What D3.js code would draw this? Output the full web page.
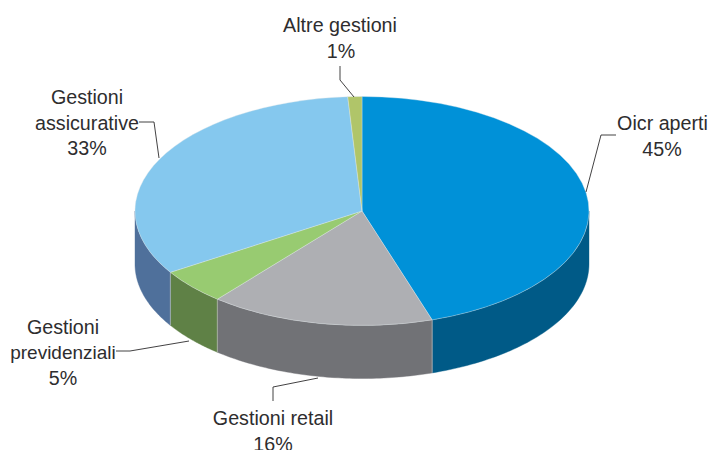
<!DOCTYPE html>
<html><head><meta charset="utf-8">
<style>html,body{margin:0;padding:0;background:#fff;overflow:hidden}
svg{display:block}text{font-family:"Liberation Sans",Arial,sans-serif;font-size:19.7px;fill:#2e2d2e;text-anchor:middle}</style>
<script src="https://cdnjs.cloudflare.com/ajax/libs/d3/7.8.5/d3.min.js"></script>
</head><body><svg id="c" width="708" height="450"></svg>
<script>
const categories = ["Oicr aperti","Gestioni retail","Gestioni previdenziali","Gestioni assicurative","Altre gestioni"];
const values = [45,16,5,33,1];
const topColors = ["#0091D8","#AEAFB3","#98CB71","#85C8EE","#B0C569"];
const sideColors = ["#005A87","#717276","#5F8146","#4F709B","#7F9048"];

const cx=362, cy=211, rx=227, ry=114.5, depth=53;
const svg=d3.select("#c");
const arcs=d3.pie().sort(null).value(d=>d)(values);
const px=a=>cx+rx*Math.sin(a), py=a=>cy-ry*Math.cos(a);
const line=d3.line();

// side walls: only the front half of the rim is visible
arcs.forEach((s,i)=>{
  const a0=Math.max(s.startAngle,Math.PI/2), a1=Math.min(s.endAngle,3*Math.PI/2);
  if(a1<=a0) return;
  const as=d3.range(0,61).map(k=>a0+(a1-a0)*k/60);
  const pts=as.map(a=>[px(a),py(a)]).concat(as.slice().reverse().map(a=>[px(a),py(a)+depth]));
  svg.append("path").attr("d",line(pts)+"Z").attr("fill",sideColors[i])
     .attr("stroke",sideColors[i]).attr("stroke-width",0.4);
});
// light edges between the visible walls
arcs.forEach(s=>{
  const a=s.endAngle;
  if(a>Math.PI/2 && a<3*Math.PI/2)
    svg.append("line").attr("x1",px(a)).attr("y1",py(a)).attr("x2",px(a)).attr("y2",py(a)+depth)
       .attr("stroke","#c9cbcc").attr("stroke-width",0.6);
});
// top face
const arc=d3.arc().innerRadius(0).outerRadius(rx);
const face=svg.append("g").attr("transform",`translate(${cx},${cy}) scale(1,${ry/rx})`);
arcs.forEach((s,i)=>{
  face.append("path").attr("d",arc(s)).attr("fill",topColors[i])
     .attr("stroke","#dfe8ea").attr("stroke-width",0.5);
});

// leader lines
const leaders=[
 [[616,135],[601,135],[586,192]],
 [[273,401],[273,387],[318,378]],
 [[116,351],[130,351],[189,341]],
 [[139,122],[154,122],[159,158]],
 [[340,66],[340,80],[354,97]]
];
leaders.forEach(p=>svg.append("path").attr("d",line(p)).attr("fill","none")
   .attr("stroke","#2e2d2e").attr("stroke-width",0.9));

// labels
const labelLayout=[
 {x:662.5,y:[130],lines:["Oicr aperti"]},
 {x:273,y:[425],lines:["Gestioni retail"]},
 {x:63,y:[333.5,358.5],lines:["Gestioni","previdenziali"]},
 {x:87,y:[104,130],lines:["Gestioni","assicurative"]},
 {x:340,y:[32],lines:["Altre gestioni"]}
];
const pctY=[155.5,451,385,155,58];
const pctX=[662,273,63,87,341];
labelLayout.forEach((l,i)=>{
  l.lines.forEach((t,j)=>{
    const el=svg.append("text").attr("x",l.x).attr("y",l.y[j]).text(t);
    if(t==="previdenziali") el.style("font-size","19px");
  });
  svg.append("text").attr("x",pctX[i]).attr("y",pctY[i]).text(values[i]+"%");
});
</script></body></html>
